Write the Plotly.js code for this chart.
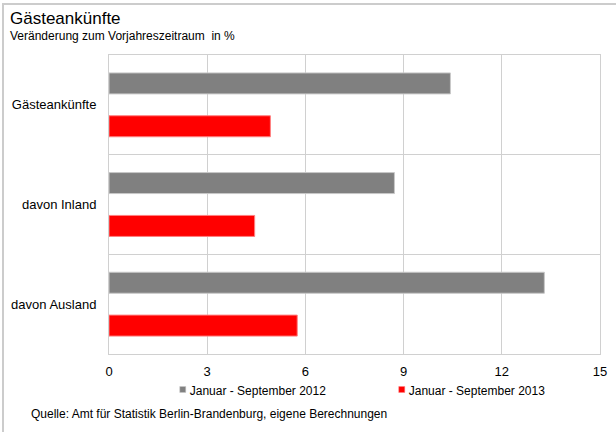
<!DOCTYPE html>
<html>
<head>
<meta charset="utf-8">
<script src="https://cdn.plot.ly/plotly-3.0.1.min.js"></script>
<style>
  body { margin: 0; background: #fff; }
  #wrap { position: relative; width: 616px; height: 432px; }
  #chart { position: absolute; left: 0; top: 0; width: 616px; height: 432px; }
  .frameTop { position: absolute; left: 2px; top: 3px; width: 614px; height: 2px; background: #cccccc; }
  .frameLeft { position: absolute; left: 2px; top: 3px; width: 2px; height: 429px; background: #cccccc; }
</style>
</head>
<body>
<div id="wrap">
  <div id="chart"></div>
  <div class="frameTop"></div>
  <div class="frameLeft"></div>
</div>
<script>
const categories = ["Gästeankünfte", "davon Inland", "davon Ausland"];
const series2012 = [10.43, 8.72, 13.30];
const series2013 = [4.93, 4.45, 5.75];
const seriesNames = ["Januar - September 2012", "Januar - September 2013"];
const xTicks = [0, 3, 6, 9, 12, 15];

const font = "Liberation Sans, Arial, sans-serif";

const traces = [
  {
    type: "bar", orientation: "h", name: seriesNames[0],
    y: categories, x: series2012,
    marker: { color: "#808080", line: { color: "#c8c8c8", width: 1 } },
    hoverinfo: "none"
  },
  {
    type: "bar", orientation: "h", name: seriesNames[1],
    y: categories, x: series2013,
    marker: { color: "#ff0000", line: { color: "#ff8080", width: 1 } },
    hoverinfo: "none"
  }
];

const layout = {
  width: 616, height: 432,
  margin: { l: 109, r: 16, t: 54.5, b: 77.5 },
  paper_bgcolor: "#ffffff", plot_bgcolor: "#ffffff",
  font: { family: font, size: 12, color: "#000" },
  barmode: "group",
  bargap: 0.14,
  bargroupgap: 0.51,
  showlegend: true,
  legend: {
    orientation: "h", x: 0.083, y: -0.122, xanchor: "left", yanchor: "middle",
    font: { family: font, size: 12, color: "#000" },
    traceorder: "normal", itemwidth: 30, entrywidth: 174,
    bgcolor: "rgba(0,0,0,0)"
  },
  xaxis: {
    range: [0, 15], tickvals: xTicks, ticktext: xTicks.map(String),
    showgrid: true, gridcolor: "#d0d0d0", gridwidth: 1,
    zeroline: false, showline: true, linecolor: "#d0d0d0", mirror: true,
    ticks: "", ticklabelstandoff: 5,
    tickfont: { family: font, size: 13, color: "#000" }, fixedrange: true
  },
  yaxis: {
    type: "category", autorange: "reversed",
    tickson: "boundaries", showgrid: true, gridcolor: "#d0d0d0", gridwidth: 1,
    showline: true, linecolor: "#d0d0d0", mirror: true,
    ticks: "", ticklabelstandoff: 9,
    tickfont: { family: font, size: 13, color: "#000" }, fixedrange: true
  },
  annotations: [
    { xref: "paper", yref: "paper", x: -0.206, y: 1.085, xanchor: "left", yanchor: "bottom",
      text: "Gästeankünfte", showarrow: false, font: { family: font, size: 17, color: "#000" } },
    { xref: "paper", yref: "paper", x: -0.206, y: 1.035, xanchor: "left", yanchor: "bottom",
      text: "Veränderung zum Vorjahreszeitraum  in %", showarrow: false, font: { family: font, size: 12, color: "#000" } },
    { xref: "paper", yref: "paper", x: -0.163, y: -0.172, xanchor: "left", yanchor: "top",
      text: "Quelle: Amt für Statistik Berlin-Brandenburg, eigene Berechnungen", showarrow: false,
      font: { family: font, size: 12, color: "#000" } }
  ]
};

Plotly.newPlot("chart", traces, layout, { displayModeBar: false, staticPlot: true }).then(function (gd) {
  // shrink legend swatches to small squares placed next to their labels
  gd.querySelectorAll(".legend .legendpoints path").forEach(function (p) {
    p.setAttribute("transform", "translate(33,-1) scale(0.5)");
  });
});
</script>
</body>
</html>
